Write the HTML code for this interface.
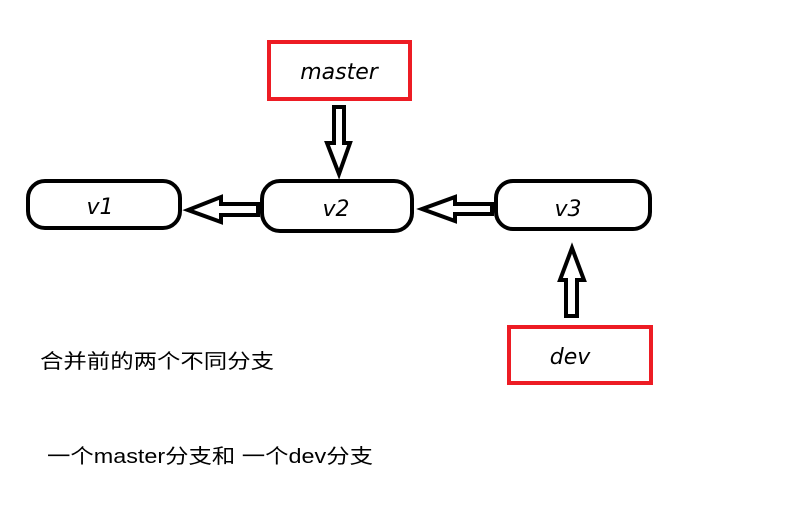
<!DOCTYPE html>
<html><head><meta charset="utf-8"><style>
html,body{margin:0;padding:0;background:#fff;width:792px;height:514px;overflow:hidden}
svg{display:block}
</style></head><body>
<svg width="792" height="514" viewBox="0 0 792 514" xmlns="http://www.w3.org/2000/svg">
<g fill="none" stroke="#ed1c24" stroke-width="4">
<rect x="269" y="42" width="141" height="57"/>
<rect x="509" y="327" width="142" height="56"/>
</g>
<g fill="#fff" stroke="#000" stroke-width="4" stroke-linejoin="miter">
<rect x="28" y="181" width="152" height="47" rx="17"/>
<rect x="262" y="181" width="150" height="50" rx="18"/>
<rect x="496" y="181" width="154" height="48" rx="17"/>
<polygon points="334,107 344,107 344,143 350,143 339,174 327,143 334,143"/>
<polygon points="258,204 221,204 221,197 188,210 221,222 221,215 258,215"/>
<polygon points="492,204 455,204 455,197 422,209 455,221 455,214 492,214"/>
<polygon points="566,316 577,316 577,280 584,280 572,248 560,280 566,280"/>
</g>
<g font-family="'Comic Sans MS','DejaVu Sans',sans-serif" font-style="italic" font-size="22" fill="#000" text-anchor="middle">
<text x="339" y="79">master</text>
<text x="100" y="214">v1</text>
<text x="336" y="216">v2</text>
<text x="568" y="216">v3</text>
<text x="570" y="364">dev</text>
</g>
<g font-family="'Liberation Sans','Noto Sans CJK SC',sans-serif" font-size="20" fill="#000">
<text x="40" y="368" textLength="234" lengthAdjust="spacingAndGlyphs">合并前的两个不同分支</text>
<text x="47" y="463" textLength="326" lengthAdjust="spacingAndGlyphs">一个master分支和 一个dev分支</text>
</g>
</svg>
</body></html>
